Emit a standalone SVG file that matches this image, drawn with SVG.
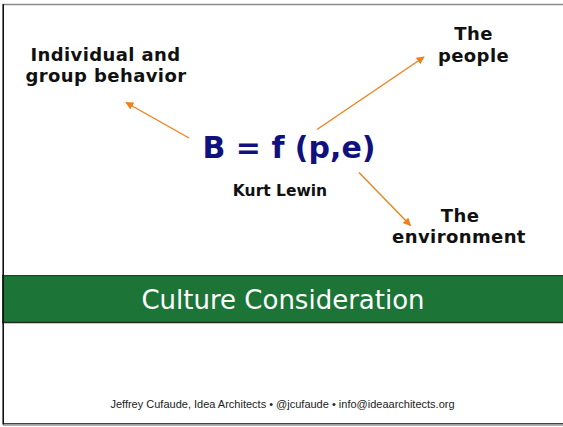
<svg xmlns="http://www.w3.org/2000/svg" width="563" height="427" viewBox="0 0 563 427">
  <style>
    .label { font-family: "DejaVu Sans", "Liberation Sans", sans-serif; font-weight: bold; font-size: 18px; letter-spacing: 0.4px; fill: #111; text-anchor: middle; }
    .formula { font-family: "DejaVu Sans", "Liberation Sans", sans-serif; font-weight: bold; font-size: 30px; fill: #10107e; text-anchor: middle; }
    .author { font-family: "DejaVu Sans", "Liberation Sans", sans-serif; font-weight: bold; font-size: 15.5px; fill: #111; text-anchor: middle; }
    .title { font-family: "DejaVu Sans", "Liberation Sans", sans-serif; font-size: 26px; fill: #ffffff; text-anchor: middle; }
    .footer { font-family: "Liberation Sans", Arial, sans-serif; font-size: 11px; fill: #222; text-anchor: middle; }
    .conn { stroke: #f0801c; stroke-width: 1.4; fill: none; marker-end: url(#arrow); }
  </style>
  <defs>
    <marker id="arrow" viewBox="0 0 10 10" refX="9" refY="5" markerWidth="8" markerHeight="8" markerUnits="userSpaceOnUse" orient="auto">
      <path d="M0,0 L10,5 L0,10 z" fill="#f0801c"/>
    </marker>
  </defs>

  <!-- page background and frame -->
  <rect x="0" y="0" width="563" height="427" fill="#ffffff"/>
  <line x1="3" y1="4.5" x2="563" y2="4.5" stroke="#8a8a8a" stroke-width="1.5"/>
  <line x1="3" y1="423.8" x2="563" y2="423.8" stroke="#444" stroke-width="1.5"/>
  <line x1="3" y1="425.5" x2="563" y2="425.5" stroke="#b0b0b0" stroke-width="1.2"/>

  <!-- title band -->
  <g id="title-band">
    <rect x="2" y="275" width="561" height="48" fill="#1c7537"/>
    <line x1="2" y1="275.6" x2="563" y2="275.6" stroke="#184a28" stroke-width="1.3"/>
    <line x1="2" y1="322.5" x2="563" y2="322.5" stroke="#1f2a22" stroke-width="1.4"/>
    <text class="title" x="283" y="308.5">Culture Consideration</text>
  </g>

  <line x1="3.2" y1="4" x2="3.2" y2="424.5" stroke="#111" stroke-width="1.6"/>

  <!-- connectors -->
  <g id="connectors">
    <line class="conn" x1="189" y1="138" x2="126" y2="102.5"/>
    <line class="conn" x1="317" y1="129.5" x2="424" y2="57"/>
    <line class="conn" x1="359" y1="172.5" x2="410.5" y2="225.5"/>
  </g>

  <!-- nodes -->
  <g id="formula">
    <text class="formula" x="289" y="158">B = f (p,e)</text>
    <text class="author" x="280" y="196">Kurt Lewin</text>
  </g>
  <g id="behavior">
    <text class="label" x="105.5" y="61">Individual and</text>
    <text class="label" x="106" y="82">group behavior</text>
  </g>
  <g id="people">
    <text class="label" x="473.5" y="40">The</text>
    <text class="label" x="473.5" y="62">people</text>
  </g>
  <g id="environment">
    <text class="label" x="460" y="221.5">The</text>
    <text class="label" x="459" y="242.5">environment</text>
  </g>

  <!-- footer -->
  <text id="footer" class="footer" x="282.5" y="407.5">Jeffrey Cufaude, Idea Architects • @jcufaude • info@ideaarchitects.org</text>
</svg>
